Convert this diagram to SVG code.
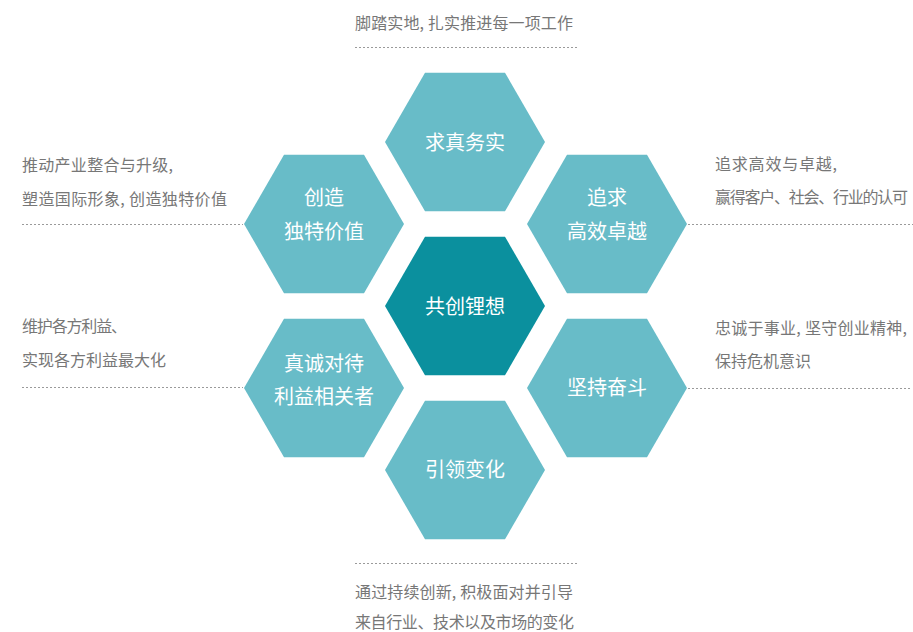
<svg xmlns="http://www.w3.org/2000/svg" width="913" height="632" viewBox="0 0 913 632">
<style>
.hex{fill:#68bcc8}
.core{fill:#0b909e}
.ht{font-family:"Noto Sans CJK SC","Noto Sans",sans-serif;font-size:20px;fill:#ffffff;text-anchor:middle}
.dt{font-family:"Noto Sans CJK SC","Noto Sans",sans-serif;font-size:16px;fill:#777777}
.dot{stroke:#9a9a9a;stroke-width:1;stroke-dasharray:2 2;fill:none}
</style>
<defs>
<polygon id="hx" points="-80,0 -40,-69.3 40,-69.3 80,0 40,69.3 -40,69.3"/>
</defs>
<rect width="913" height="632" fill="#ffffff"/>
<g id="connectors">
<line class="dot" x1="355" y1="47.5" x2="577" y2="47.5"/>
<line class="dot" x1="22" y1="224.5" x2="243" y2="224.5"/>
<line class="dot" x1="688" y1="224.5" x2="913" y2="224.5"/>
<line class="dot" x1="22" y1="387.5" x2="243" y2="387.5"/>
<line class="dot" x1="688" y1="388.5" x2="910" y2="388.5"/>
<line class="dot" x1="355" y1="563.5" x2="577" y2="563.5"/>
</g>
<g id="node-top">
<use href="#hx" class="hex" x="465" y="142"/>
<text class="ht" x="465" y="150">求真务实</text>
</g>
<g id="node-center">
<use href="#hx" class="core" x="465" y="306"/>
<text class="ht" x="465" y="314">共创锂想</text>
</g>
<g id="node-bottom">
<use href="#hx" class="hex" x="465" y="470"/>
<text class="ht" x="465" y="477">引领变化</text>
</g>
<g id="node-left-top">
<use href="#hx" class="hex" x="324" y="224"/>
<text class="ht" x="324" y="205">创造</text>
<text class="ht" x="324" y="239">独特价值</text>
</g>
<g id="node-right-top">
<use href="#hx" class="hex" x="607" y="224"/>
<text class="ht" x="607" y="205">追求</text>
<text class="ht" x="607" y="239">高效卓越</text>
</g>
<g id="node-left-bottom">
<use href="#hx" class="hex" x="324" y="388"/>
<text class="ht" x="324" y="371">真诚对待</text>
<text class="ht" x="324" y="404">利益相关者</text>
</g>
<g id="node-right-bottom">
<use href="#hx" class="hex" x="607" y="388"/>
<text class="ht" x="607" y="395">坚持奋斗</text>
</g>
<g id="desc-top">
<text class="dt" x="355" y="29" textLength="218" lengthAdjust="spacing">脚踏实地, 扎实推进每一项工作</text>
</g>
<g id="desc-left-top">
<text class="dt" x="22" y="171" textLength="151" lengthAdjust="spacing">推动产业整合与升级,</text>
<text class="dt" x="22" y="205" textLength="205" lengthAdjust="spacing">塑造国际形象, 创造独特价值</text>
</g>
<g id="desc-right-top">
<text class="dt" x="715" y="170" textLength="122" lengthAdjust="spacing">追求高效与卓越,</text>
<text class="dt" x="715" y="203" textLength="193" lengthAdjust="spacing">赢得客户、社会、行业的认可</text>
</g>
<g id="desc-left-bottom">
<text class="dt" x="22" y="332" textLength="105" lengthAdjust="spacing">维护各方利益、</text>
<text class="dt" x="22" y="366">实现各方利益最大化</text>
</g>
<g id="desc-right-bottom">
<text class="dt" x="715" y="334" textLength="192" lengthAdjust="spacing">忠诚于事业, 坚守创业精神,</text>
<text class="dt" x="715" y="367">保持危机意识</text>
</g>
<g id="desc-bottom">
<text class="dt" x="355" y="598" textLength="218" lengthAdjust="spacing">通过持续创新, 积极面对并引导</text>
<text class="dt" x="355" y="628" textLength="219" lengthAdjust="spacing">来自行业、技术以及市场的变化</text>
</g>
</svg>
